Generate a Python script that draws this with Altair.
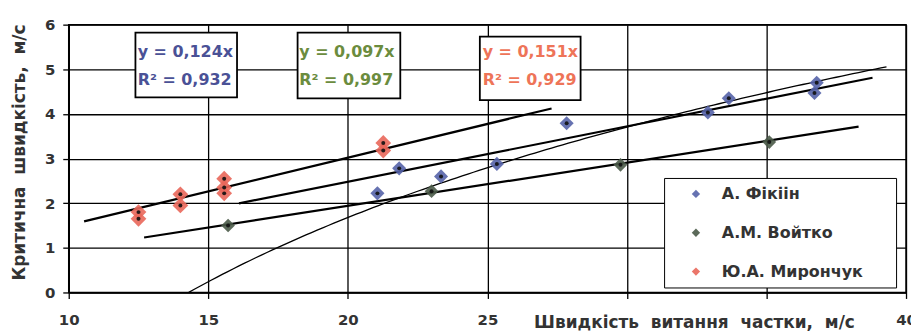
import altair as alt
import pandas as pd

# ---- data ----
series_names = ["А. Фікіін", "А.М. Войтко", "Ю.А. Мирончук"]
marker_colors = ["#5563a8", "#4a5a48", "#e9675a"]
text_colors = ["#4a5196", "#6b8c3e", "#ee7458"]
marker_sizes = [200, 190, 250]

fikiin_x = [21.06, 21.84, 23.34, 25.34, 27.84, 32.9, 33.65, 36.72, 36.8]
fikiin_y = [2.22, 2.78, 2.60, 2.88, 3.79, 4.03, 4.35, 4.47, 4.70]
voitko_x = [15.71, 23.0, 29.77, 35.1]
voitko_y = [1.50, 2.27, 2.86, 3.37]
myronchuk_x = [12.5, 12.5, 14.0, 14.0, 15.57, 15.57, 15.57, 21.27, 21.27]
myronchuk_y = [1.80, 1.65, 2.20, 1.95, 2.55, 2.35, 2.22, 3.35, 3.18]

# linear trends through the origin (y = k*x), one per series
trend_slopes = [0.124, 0.097, 0.151]
trend_r2 = ["0,932", "0,997", "0,929"]
trend_slope_txt = ["0,124", "0,097", "0,151"]
trend_x_start = [16.1, 12.7, 10.55]
trend_x_end = [38.8, 38.3, 27.3]

# logarithmic trend of the Фікіін data: y = a*ln(x) - b
log_a = 5.0
log_b = 13.3
log_x_start = 14.3
log_x_end = 39.4

# equation boxes (data units)
box_x0 = [12.39, 18.2, 24.73]
box_x1 = [16.03, 21.88, 28.34]
box_y_top = [5.82, 5.82, 5.73]
box_y_bot = [4.37, 4.35, 4.31]
text_x = [12.47, 18.26, 24.83]
line1_y = 5.38
line2_y = 4.76

x_ticks = [10, 15, 20, 25, 30, 35, 40]
y_ticks = [0, 1, 2, 3, 4, 5, 6]

FONT = "DejaVu Sans"

# ---- tables ----
rows = []
for i, (name, xs, ys) in enumerate([(series_names[0], fikiin_x, fikiin_y),
                                    (series_names[1], voitko_x, voitko_y),
                                    (series_names[2], myronchuk_x, myronchuk_y)]):
    for xv, yv in zip(xs, ys):
        rows.append({"series": name, "x": xv, "y": yv, "sz": marker_sizes[i]})
points = pd.DataFrame(rows)

trend_rows = []
for i, name in enumerate(series_names):
    for xv in (trend_x_start[i], trend_x_end[i]):
        trend_rows.append({"series": name, "x": xv, "k": trend_slopes[i]})
trends = pd.DataFrame(trend_rows)

boxes = pd.DataFrame({
    "series": series_names,
    "x0": box_x0, "x1": box_x1, "yt": box_y_top, "yb": box_y_bot,
    "tx": text_x,
    "l1": ["y = " + s + "x" for s in trend_slope_txt],
    "l2": ["R² = " + r for r in trend_r2],
})

xscale = alt.Scale(domain=[10, 40], nice=False, zero=False)
yscale = alt.Scale(domain=[0, 6], nice=False)

x_enc = alt.X("x:Q", scale=xscale, axis=alt.Axis(
    values=x_ticks, grid=True, labelFlush=False,
    labelExpr="(datum.value == 30 || datum.value == 35) ? '' : datum.label",
    title="Швидкість\u00a0\u00a0витання\u00a0\u00a0частки,\u00a0\u00a0м/с",
    titleX=628, titleY=35, titleBaseline="alphabetic", titleAlign="center",
    titleFontSize=17, titleFont=FONT, titleFontWeight="bold", titleColor="#333333",
    labelFontSize=15, labelFont=FONT, labelFontWeight="bold", labelColor="#333333",
    labelPadding=14))
y_enc = alt.Y("y:Q", scale=yscale, axis=alt.Axis(
    values=y_ticks, grid=True,
    title="Критична\u00a0\u00a0швидкість,\u00a0\u00a0м/с",
    titleX=-49, titleY=128, titleAngle=-90, titleBaseline="middle", titleAlign="center",
    titleFontSize=17, titleFont=FONT, titleFontWeight="bold", titleColor="#333333",
    labelFontSize=15, labelFont=FONT, labelFontWeight="bold", labelColor="#333333",
    labelPadding=8))

color_scale = alt.Scale(domain=series_names, range=marker_colors)

# log trend curve
log_curve = alt.Chart(alt.sequence(log_x_start, log_x_end + 0.01, 0.2, as_="x")).transform_calculate(
    y=f"{log_a}*log(datum.x) - {log_b}"
).mark_line(color="black", strokeWidth=1.3).encode(x=x_enc, y=y_enc)

trend_lines = alt.Chart(trends).transform_calculate(
    y="datum.k * datum.x"
).mark_line(color="black", strokeWidth=2.2).encode(
    x=alt.X("x:Q", scale=xscale), y=alt.Y("y:Q", scale=yscale), detail="series:N")

pad = "\u2800" * 2
diamonds = alt.Chart(points).mark_point(
    shape="diamond", filled=True, opacity=0.9
).encode(
    x=alt.X("x:Q", scale=xscale), y=alt.Y("y:Q", scale=yscale),
    size=alt.Size("sz:Q", scale=None, legend=None),
    color=alt.Color("series:N", scale=color_scale, legend=alt.Legend(
        title=None, orient="none", legendX=598, legendY=154,
        fillColor="white", strokeColor="black",
        padding=8, rowPadding=23, symbolType="diamond", symbolSize=70,
        symbolOffset=16, labelOffset=18, symbolStrokeWidth=0,
        labelFont=FONT, labelFontSize=16, labelFontWeight="bold", labelColor="#333333",
        labelExpr=f"datum.label + '{pad}'",
        labelLimit=400)))

dots = alt.Chart(points).mark_point(
    shape="circle", filled=True, size=16, color="#111111", opacity=0.9
).encode(x=alt.X("x:Q", scale=xscale), y=alt.Y("y:Q", scale=yscale))

box_rects = alt.Chart(boxes).mark_rect(fill="white", stroke="black", strokeWidth=1.8).encode(
    x=alt.X("x0:Q", scale=xscale), x2="x1:Q",
    y=alt.Y("yt:Q", scale=yscale), y2="yb:Q")

text_color = alt.Color("series:N", scale=alt.Scale(domain=series_names, range=text_colors), legend=None)
box_l1 = alt.Chart(boxes).mark_text(
    align="left", baseline="middle", font=FONT, fontSize=16, fontWeight="bold"
).encode(x=alt.X("tx:Q", scale=xscale), y=alt.datum(line1_y), text="l1:N", color=text_color)
box_l2 = alt.Chart(boxes).mark_text(
    align="left", baseline="middle", font=FONT, fontSize=16, fontWeight="bold"
).encode(x=alt.X("tx:Q", scale=xscale), y=alt.datum(line2_y), text="l2:N", color=text_color)

chart = alt.layer(
    log_curve, trend_lines, box_rects, box_l1, box_l2, diamonds, dots
).resolve_scale(color="independent").properties(
    width=841, height=269,
    autosize=alt.AutoSizeParams(type="none"),
    padding={"left": 61, "top": 16, "right": 5, "bottom": 41},
    background="white",
).configure_view(
    stroke="black", strokeWidth=1.5
).configure_axis(
    domainColor="black", domainWidth=1.5,
    gridColor="black", gridWidth=1.3, gridOpacity=1,
    tickColor="black", tickSize=6, tickWidth=1.3,
)

chart.save("out.html", embed_options={"renderer": "svg", "actions": False})
